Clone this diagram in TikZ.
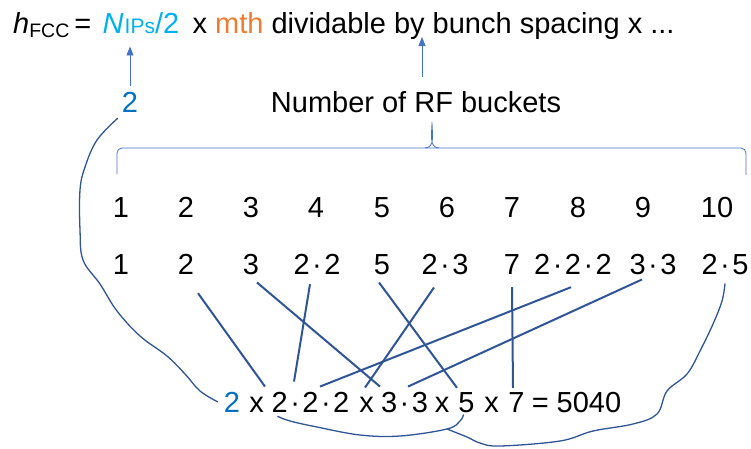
\documentclass[tikz,border=0pt]{standalone}
\usepackage{fontspec}
\setmainfont{Liberation Sans}
\usetikzlibrary{positioning,arrows.meta}

\definecolor{nipsblue}{HTML}{00B0F0}
\definecolor{twoblue}{HTML}{0070C0}
\definecolor{mthorange}{HTML}{ED7D31}
\definecolor{linkblue}{HTML}{2F5597}
\definecolor{ptrblue}{HTML}{4472C4}
\newcommand\mdot{\kern2.5pt·\kern2.5pt}

\begin{document}
\begin{tikzpicture}[
  x=1pt, y=-1pt,
  every node/.style={font=\fontsize{29}{34}\selectfont, inner sep=0pt},
  num/.style={anchor=base},
  ptr/.style={-{Triangle[width=7pt,length=9pt]}, ptrblue, line width=0.8pt},
  factorline/.style={linkblue, line width=2pt},
  handline/.style={linkblue, line width=1.3pt, line join=round},
  bucketbrace/.style={ptrblue, line width=0.8pt}
]
  \useasboundingbox (0,0) rectangle (751,448);

  % Harmonic number line
  \node[anchor=base west] (hfcc) at (13,33)
    {\textit{h}\raisebox{-4pt}{\fontsize{19.5}{20}\selectfont FCC}\kern5pt=};
  \node[base right=11pt of hfcc, text=nipsblue] (nips)
    {\textit{N}{\fontsize{21}{21}\selectfont\kern1pt IPs}/2};
  \node[base right=13pt of nips] (rest)
    {x \textcolor{mthorange}{mth} dividable by bunch spacing x ...};
  \coordinate (by) at (422,37);

  \node[num, text=twoblue] (two) at (130,112) {2};
  \node[num] (buckets) at (416,112) {Number of RF buckets};

  \draw[ptr, shorten <=6pt, shorten >=13pt] (two.north) -- (two.north |- nips.south);
  \draw[ptr, shorten <=14pt] (by |- buckets.north) -- (by);

  % Brace over the bucket numbers
  \draw[bucketbrace, rounded corners=5pt] (117,174) -- (117,148) -- (746,148) -- (746,175);
  \draw[bucketbrace] (425,148) to[out=0, in=-90] (432,122) to[out=-90, in=180] (439,148);

  % Bucket numbers and their factors
  \foreach \i/\x in {1/121, 2/186, 3/251, 4/316, 5/382, 6/447, 7/512, 8/578, 9/643, 10/717}
    \node[num] (n\i) at (\x,217) {\i};
  \foreach \i/\x/\f in {1/121/1, 2/186/2, 3/251/3, 4/317/2\mdot2, 5/382/5, 6/445/2\mdot3,
                        7/512/7, 8/573/2\mdot2\mdot2, 9/653/3\mdot3, 10/725/2\mdot5}
    \node[num] (p\i) at (\x,274) {\f};

  % Product
  \node[num, text=twoblue] (eqtwo) at (232,412) {2};
  \foreach \n/\x/\t in {x1/256.5/x, f2/310.5/2\mdot2\mdot2, x2/366.5/x, f3/404.5/3\mdot3,
                        x3/442/x, f5/466.5/5, x4/491.5/x, f7/516.5/7, eqres/576.5/= 5040}
    \node[num] (\n) at (\x,412) {\t};

  % --- factors to product ---
  \foreach \a/\b/\sx/\sy/\ex/\ey in {2/f2/12/19/-45.5/-5, 3/f3/6/8/-24.5/-5,
      4/f2/-7/10/-16.5/-10, 5/f5/-3/8/-9.5/-4, 6/f3/-11/13/-39.5/-4,
      7/f7/0/13/-3.5/-4, 8/f2/-2/13/9.5/-5, 9/f3/-11/5/3.5/-5}
    \draw[factorline] ([shift={(\sx,\sy)}]p\a.south) -- ([shift={(\ex,\ey)}]\b.north);

  % --- hand drawn links ---
  \draw[handline] plot[smooth, tension=0.6] coordinates {([shift={(-4,6)}]two.south west)
    (97,140) (85,167) (80,190) (80,230) (83,260) (100,284) (117,311) (140,336)
    (167,356) (185,374) (200,391) ([xshift=-6pt]eqtwo.west)};
  \draw[handline] plot[smooth, tension=0.6] coordinates {([shift={(6,4)}]f2.south west)
    (290,421) (317,427) (360,435) (400,436) (447,429) (460,421) ([shift={(-3,2)}]f5.south)};
  \draw[handline] plot[smooth, tension=0.6] coordinates {(447,429) (467,437) (480,443)
    (500,446) (560,441) (593,431) (633,424) (657,414) (667,391) (687,374) (700,351)
    (713,324) (722,301) ([shift={(0,9)}]p10.south)};
\end{tikzpicture}
\end{document}
